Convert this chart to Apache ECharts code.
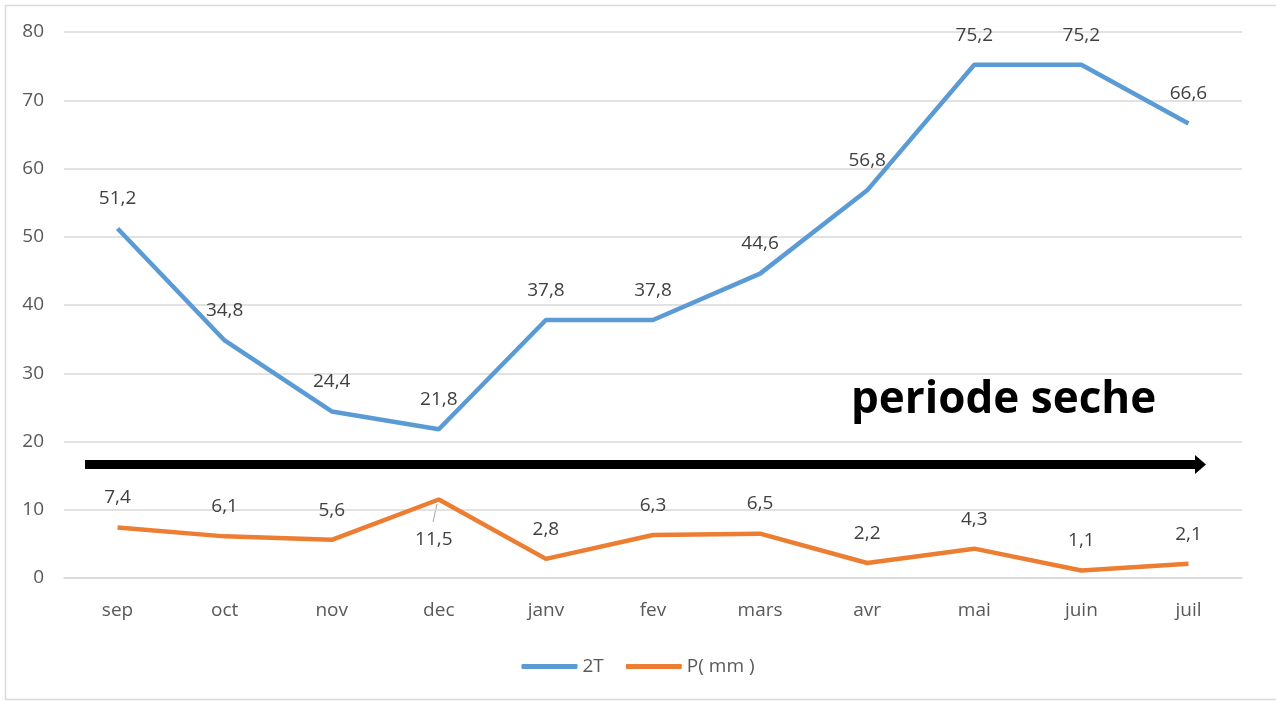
<!DOCTYPE html>
<html>
<head>
<meta charset="utf-8">
<script src="https://cdn.jsdelivr.net/npm/echarts@6/dist/echarts.min.js"></script>
<style>
  html, body { margin: 0; padding: 0; background: #fff; }
  #chart { width: 1276px; height: 702px; }
</style>
</head>
<body>
<div id="chart"></div>
<script>
const months = ['sep', 'oct', 'nov', 'dec', 'janv', 'fev', 'mars', 'avr', 'mai', 'juin', 'juil'];
const temp2T = [51.2, 34.8, 24.4, 21.8, 37.8, 37.8, 44.6, 56.8, 75.2, 75.2, 66.6];
const precipMm = [7.4, 6.1, 5.6, 11.5, 2.8, 6.3, 6.5, 2.2, 4.3, 1.1, 2.1];
const yTicks = [0, 10, 20, 30, 40, 50, 60, 70, 80];

const FONT = '"Open Sans", "Noto Sans", sans-serif';
const fmt = v => String(v).replace('.', ',');

const chart = echarts.init(document.getElementById('chart'), null, { renderer: 'canvas' });

const labelStyle = {
  show: true,
  position: 'top',
  distance: 20,
  fontFamily: FONT,
  fontSize: 19,
  color: '#404040',
  formatter: p => fmt(p.value)
};

chart.setOption({
  animation: false,
  backgroundColor: '#ffffff',
  grid: { left: 64, right: 34, top: 32, bottom: 124 },
  legend: {
    bottom: 21,
    left: 'center',
    itemWidth: 56,
    itemHeight: 5,
    itemGap: 22,
    textStyle: { fontFamily: FONT, fontSize: 19, color: '#595959' },
    data: [
      { name: '2T', icon: 'roundRect' },
      { name: 'P( mm )', icon: 'roundRect' }
    ]
  },
  xAxis: {
    type: 'category',
    data: months,
    boundaryGap: true,
    axisLine: { show: true, lineStyle: { color: '#d9d9d9', width: 1.5 } },
    axisTick: { show: false },
    axisLabel: { fontFamily: FONT, fontSize: 19, color: '#595959', margin: 23 }
  },
  yAxis: {
    type: 'value',
    min: yTicks[0],
    max: yTicks[yTicks.length - 1],
    interval: 10,
    axisLine: { show: false },
    axisTick: { show: false },
    axisLabel: { fontFamily: FONT, fontSize: 19, color: '#595959', margin: 20 },
    splitLine: { lineStyle: { color: '#d9d9d9', width: 1.5 } }
  },
  series: [
    {
      name: '2T',
      type: 'line',
      data: temp2T,
      symbol: 'circle',
      symbolSize: 0.1,
      showSymbol: true,
      lineStyle: { color: '#5B9BD5', width: 4.5 },
      itemStyle: { color: '#5B9BD5' },
      label: labelStyle
    },
    {
      name: 'P( mm )',
      type: 'line',
      data: precipMm.map((v, i) => i === 3
        ? { value: v, label: { position: 'bottom', distance: 31, offset: [-5, 0] } }
        : v),
      symbol: 'circle',
      symbolSize: 0.1,
      showSymbol: true,
      lineStyle: { color: '#ED7D31', width: 4.5 },
      itemStyle: { color: '#ED7D31' },
      label: labelStyle
    }
  ],
  graphic: [
    {
      type: 'rect',
      silent: true,
      shape: { x: 5.5, y: 5.5, width: 1300, height: 694 },
      style: { fill: 'none', stroke: '#d9d9d9', lineWidth: 1.5 }
    },
    {
      type: 'line',
      silent: true,
      shape: { x1: 437, y1: 504, x2: 433, y2: 522 },
      style: { stroke: '#a6a6a6', lineWidth: 1 }
    },
    {
      type: 'rect',
      silent: true,
      shape: { x: 85, y: 460, width: 1112, height: 9 },
      style: { fill: '#000000' }
    },
    {
      type: 'polygon',
      silent: true,
      shape: { points: [[1195, 455], [1206, 464.5], [1195, 474]] },
      style: { fill: '#000000' }
    },
    {
      type: 'text',
      silent: true,
      left: 851,
      top: 378,
      style: {
        text: 'periode seche',
        fontFamily: FONT,
        fontWeight: 'bold',
        fontSize: 44,
        fill: '#000000'
      }
    }
  ]
});
</script>
</body>
</html>
